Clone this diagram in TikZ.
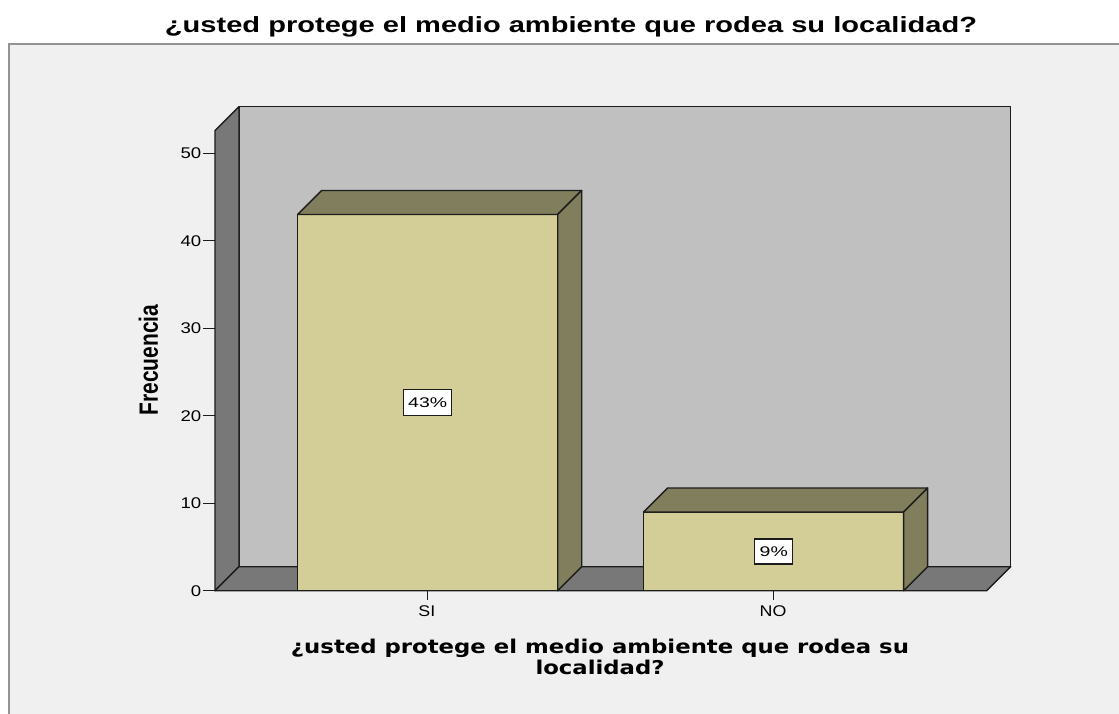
\documentclass[tikz,border=0pt]{standalone}
\usepackage{fontspec}
\setmainfont{Liberation Sans}
\newfontfamily\dvfont{DejaVu Sans}
\usepackage{graphicx}
\definecolor{bgc}{RGB}{240,240,240}
\definecolor{wallc}{RGB}{192,192,192}
\definecolor{darkc}{RGB}{120,120,120}
\definecolor{barfront}{RGB}{211,206,151}
\definecolor{barside}{RGB}{128,126,92}
\definecolor{edgec}{RGB}{28,28,28}
\newcommand{\sxx}[2]{\scalebox{#1}[1]{#2}}
\begin{document}
\begin{tikzpicture}[x=1pt,y=-1pt,
  edge/.style={draw=edgec, line width=1.4pt, line join=round},
  ticklab/.style={inner sep=0pt, font=\fontsize{15.5}{18}\selectfont},
  pbox/.style={draw=edgec, line width=1.3pt, fill=white, inner sep=0pt, font=\fontsize{14}{16}\selectfont}]
\useasboundingbox (0,0) rectangle (1119,713);
\fill[white] (0,0) rectangle (1119,713);
\clip (0,0) rectangle (1119,713);
% outer frame
\draw[draw=gray!85, line width=2pt, fill=bgc] (9,44) rectangle (1135,730);
% title
\node[anchor=base, inner sep=0pt] (title) at (571,32)
  {\resizebox{812pt}{\height}{\fontsize{22}{26}\selectfont\bfseries ¿usted protege el medio ambiente que rodea su localidad?}};
% back wall
\draw[edge, fill=wallc] (239,106.7) rectangle (1010.7,566.7);
% left wall
\draw[edge, fill=darkc] (215,590.7) -- (215,130.7) -- (239,106.7) -- (239,566.7) -- cycle;
% floor
\draw[edge, fill=darkc] (215,590.7) -- (239,566.7) -- (1010.7,566.7) -- (986.7,590.7) -- cycle;
% y ticks
\foreach \v in {0,10,20,30,40,50}{
  \pgfmathsetmacro\yy{590.7-8.75*\v}
  \draw[edge, line width=1.2pt] (203,\yy) -- (215,\yy);
  \node[ticklab, anchor=east] (t\v) at (201.5,\yy) {\sxx{1.2}{\v}};
}
% bar SI
\draw[edge, fill=barfront] (297.7,214.45) rectangle (557.7,590.7);
\draw[edge, fill=barside] (297.7,214.45) -- (321.7,190.45) -- (581.7,190.45) -- (557.7,214.45) -- cycle;
\draw[edge, fill=barside] (557.7,214.45) -- (581.7,190.45) -- (581.7,566.7) -- (557.7,590.7) -- cycle;
% bar NO
\draw[edge, fill=barfront] (643.6,512) rectangle (903.6,590.7);
\draw[edge, fill=barside] (643.6,512) -- (667.6,488) -- (927.6,488) -- (903.6,512) -- cycle;
\draw[edge, fill=barside] (903.6,512) -- (927.6,488) -- (927.6,566.7) -- (903.6,590.7) -- cycle;
% x ticks
\draw[edge, line width=1.2pt] (427.7,590.7) -- (427.7,600);
\draw[edge, line width=1.2pt] (773.6,590.7) -- (773.6,600);
\node[ticklab] (si) at (426.8,611) {\sxx{1.15}{SI}};
\node[ticklab] (no) at (773,611) {\sxx{1.15}{NO}};
% percentage labels
\node[pbox, minimum width=48pt, minimum height=26pt] (p43) at (427.7,402.6) {\sxx{1.39}{43\%}};
\node[pbox, minimum width=38pt, minimum height=25pt] (p9) at (773.8,551.5) {\sxx{1.39}{9\%}};
% axis titles
\node[inner sep=0pt] (ytitle) at (148.5,360)
  {\sxx{1.26}{\rotatebox{90}{\fontsize{21}{24}\selectfont\bfseries Frecuencia}}};
\node[anchor=base, inner sep=0pt] (xt1) at (600,653)
  {\resizebox{618pt}{\height}{\dvfont\fontsize{19}{22}\selectfont\bfseries ¿usted protege el medio ambiente que rodea su}};
\node[anchor=base, inner sep=0pt] (xt2) at (600,674)
  {\resizebox{129pt}{\height}{\dvfont\fontsize{19}{22}\selectfont\bfseries localidad?}};
\end{tikzpicture}
\end{document}
